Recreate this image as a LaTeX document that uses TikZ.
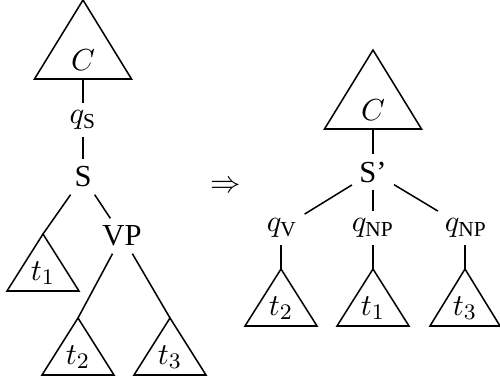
\documentclass[tikz,border=0pt]{standalone}
\usepackage{amsmath}
\usepackage{fontspec}
\setmainfont{Liberation Serif}
\begin{document}
\begin{tikzpicture}[x=0.36pt,y=-0.36pt, line width=0.55pt,
  every node/.style={font=\fontsize{11}{13}\selectfont},
  lbl/.style={inner sep=2.4pt},
  bigtri/.style={draw, line join=miter},
  smalltri/.style={draw, line join=miter}]
\useasboundingbox (0,0) rectangle (500,385);
% ---------- left tree ----------
\coordinate (cLa) at (83,0);
\coordinate (cLb) at (83,79);
\draw[bigtri] (cLa) -- (34.5,79) -- (131.5,79) -- cycle;
\node[lbl] (CL) at (83,60) {$C$};
\node[lbl] (qS) at (83,120) {$q_{\text{S}}$};
\node[lbl] (S) at (83,177) {S};
\node[lbl] (VP) at (122,236) {VP};
\draw (cLb) -- (qS);
\draw (qS) -- (S);
% t1
\coordinate (t1La) at (43,234);
\draw[smalltri] (t1La) -- ++(-36,57) -- ++(72,0) -- cycle;
\node[lbl] (t1L) at (43,273) {$t_1$};
% t2
\coordinate (t2La) at (78,318);
\draw[smalltri] (t2La) -- ++(-36,57) -- ++(72,0) -- cycle;
\node[lbl] (t2L) at (78,357) {$t_2$};
% t3
\coordinate (t3La) at (170,318);
\draw[smalltri] (t3La) -- ++(-36,57) -- ++(72,0) -- cycle;
\node[lbl] (t3L) at (170,357) {$t_3$};
\draw (S) -- (t1La);
\draw (S) -- (VP);
\draw (VP) -- (t2La);
\draw (VP) -- (t3La);
% ---------- arrow ----------
\node (arr) at (226,187) {$\Rightarrow$};
% ---------- right tree ----------
\coordinate (cRa) at (373,50);
\coordinate (cRb) at (373,129);
\draw[bigtri] (cRa) -- (324.5,129) -- (421.5,129) -- cycle;
\node[lbl] (CR) at (373,110) {$C$};
\node[lbl] (Sp) at (373,172) {S'};
\node[lbl] (qV) at (282,228) {$q_{\text{V}}$};
\node[lbl] (qNPa) at (373,228) {$q_{\text{NP}}$};
\node[lbl] (qNPb) at (466,228) {$q_{\text{NP}}$};
\draw (cRb) -- (Sp);
\draw (Sp) -- (qV);
\draw (Sp) -- (qNPa);
\draw (Sp) -- (qNPb);
\coordinate (t2Ra) at (281,269);
\draw[smalltri] (t2Ra) -- ++(-36,57) -- ++(72,0) -- cycle;
\node[lbl] (t2R) at (281,308) {$t_2$};
\coordinate (t1Ra) at (373,269);
\draw[smalltri] (t1Ra) -- ++(-36,57) -- ++(72,0) -- cycle;
\node[lbl] (t1R) at (373,308) {$t_1$};
\coordinate (t3Ra) at (465,269);
\draw[smalltri] (t3Ra) -- ++(-35,57) -- ++(70,0) -- cycle;
\node[lbl] (t3R) at (465,308) {$t_3$};
\draw (qV.south -| t2Ra) -- (t2Ra);
\draw (qNPa.south -| t1Ra) -- (t1Ra);
\draw (qNPb.south -| t3Ra) -- (t3Ra);
\end{tikzpicture}
\end{document}
